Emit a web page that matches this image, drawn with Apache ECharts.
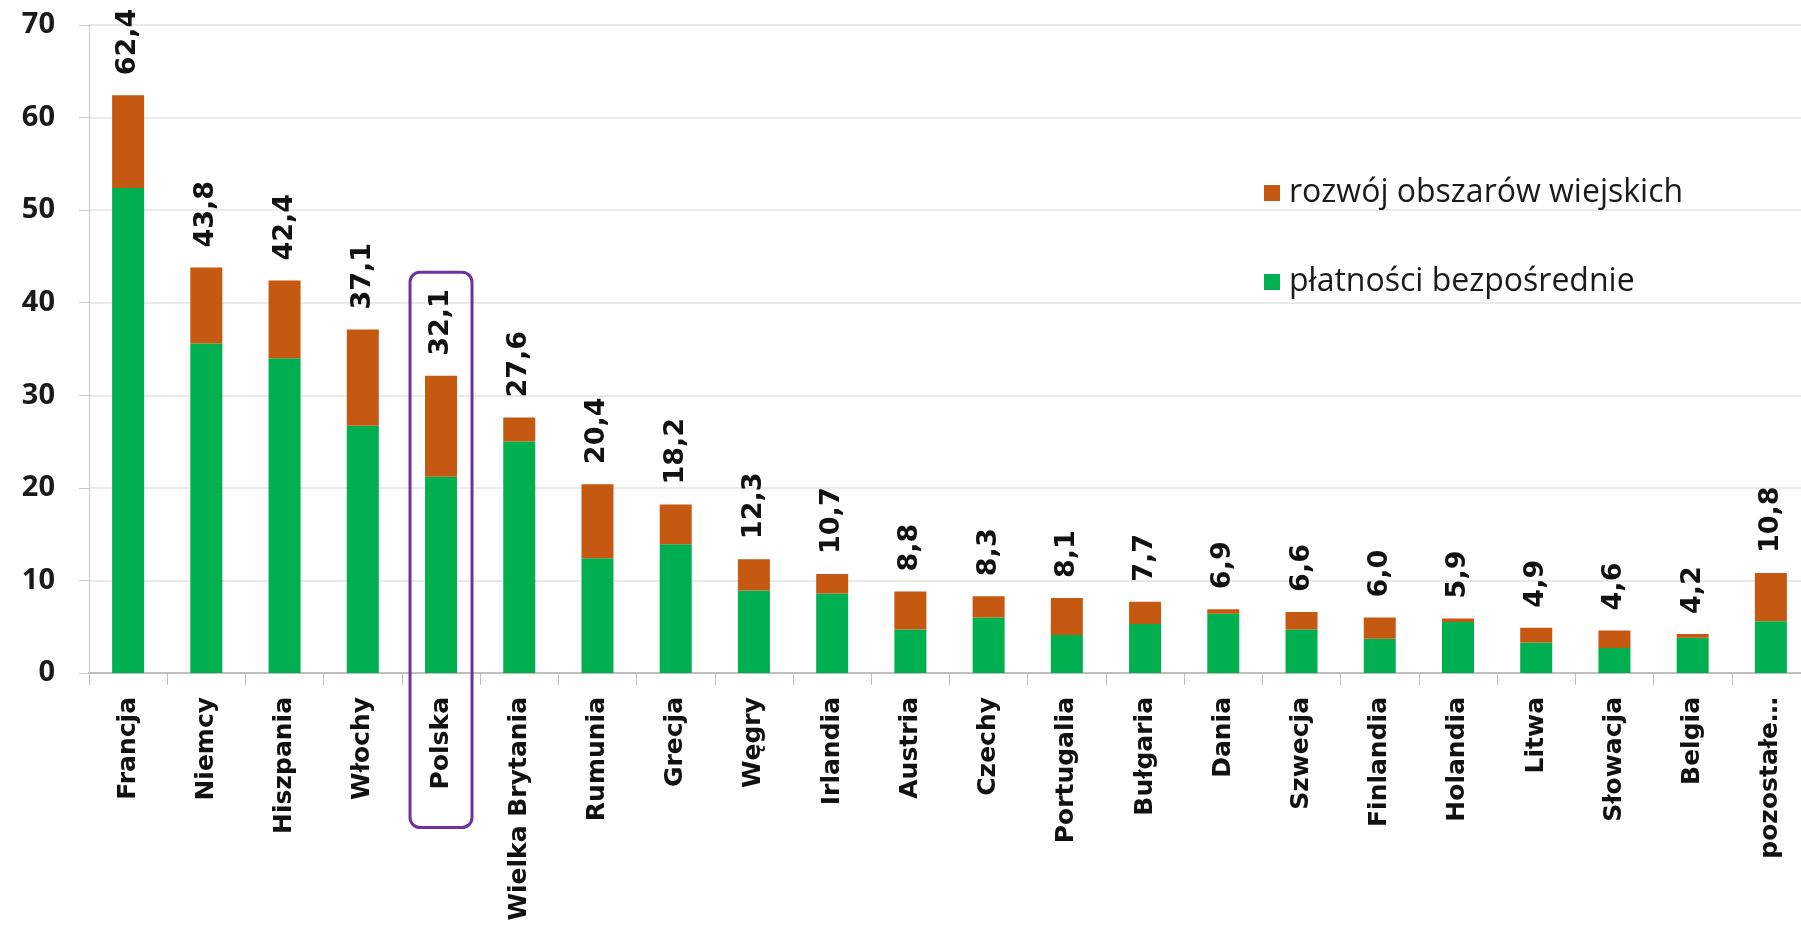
<!DOCTYPE html>
<html>
<head>
<meta charset="utf-8">
<script src="https://cdn.jsdelivr.net/npm/echarts@6/dist/echarts.min.js"></script>
<style>
html,body{margin:0;padding:0;background:#fff;}
#chart{width:1801px;height:940px;}
</style>
</head>
<body>
<div id="chart"></div>
<script>
// Data
const categories = ['Francja','Niemcy','Hiszpania','Włochy','Polska','Wielka Brytania','Rumunia','Grecja','Węgry','Irlandia','Austria','Czechy','Portugalia','Bułgaria','Dania','Szwecja','Finlandia','Holandia','Litwa','Słowacja','Belgia','pozostałe…'];
const platnosci = [52.4,35.6,34.0,26.7,21.2,25.0,12.4,13.9,8.9,8.6,4.7,6.0,4.1,5.3,6.4,4.7,3.7,5.5,3.3,2.7,3.8,5.6];
const rozwoj = [10.0,8.2,8.4,10.4,10.9,2.6,8.0,4.3,3.4,2.1,4.1,2.3,4.0,2.4,0.5,1.9,2.3,0.4,1.6,1.9,0.4,5.2];
const yTicks = [0,10,20,30,40,50,60,70];
const seriesNames = ['płatności bezpośrednie','rozwój obszarów wiejskich'];
const highlightCategory = 'Polska';

const chart = echarts.init(document.getElementById('chart'), null, {renderer:'canvas'});

function fmt(v){ return v.toFixed(1).replace('.', ','); }

const option = {
  backgroundColor:'#ffffff',
  animation:false,
  grid:{left:89, right:-9, top:25, bottom:267, containLabel:false, outerBoundsMode:'none'},
  legend:{
    orient:'vertical',
    left:1259, top:172,
    data:[seriesNames[1], seriesNames[0]],
    icon:'rect', itemWidth:16, itemHeight:16, itemGap:57,
    selectedMode:false,
    textStyle:{fontFamily:'Open Sans', fontSize:32, color:'#1a1a1a', lineHeight:32, padding:[0,0,0,4]}
  },
  xAxis:{
    type:'category',
    data:categories,
    boundaryGap:true,
    axisLine:{show:true, lineStyle:{color:'#bfbfbf', width:2}},
    axisTick:{show:true, length:12, lineStyle:{color:'#bfbfbf', width:1}},
    axisLabel:{interval:0, rotate:90, margin:24, fontFamily:'DejaVu Sans', fontWeight:'bold', fontSize:25, color:'#111111'},
    splitLine:{show:false}
  },
  yAxis:{
    type:'value',
    min:yTicks[0], max:yTicks[yTicks.length-1], interval:10,
    axisLine:{show:true, lineStyle:{color:'#c8c8d0', width:1}},
    axisTick:{show:true, length:10, lineStyle:{color:'#c8c8d0'}},
    axisLabel:{margin:34, fontFamily:'Open Sans', fontWeight:'bold', fontSize:29, color:'#1a1a1a'},
    splitLine:{show:true, lineStyle:{color:'#e3e3e3', width:1.5}}
  },
  series:[
    {
      name:seriesNames[0], type:'bar', stack:'total', data:platnosci,
      barWidth:32, itemStyle:{color:'#00B050'}
    },
    {
      name:seriesNames[1], type:'bar', stack:'total', data:rozwoj,
      barWidth:32, itemStyle:{color:'#C65911'},
      label:{
        show:true, position:'top', rotate:90, distance:20,
        align:'left', verticalAlign:'middle',
        fontFamily:'DejaVu Sans', fontWeight:'bold', fontSize:27, color:'#111111',
        formatter:function(p){ return fmt(platnosci[p.dataIndex] + rozwoj[p.dataIndex]); }
      }
    }
  ]
};
chart.setOption(option);

// Highlight box around "Polska", positioned through the chart's own scales
const topPt = chart.convertToPixel({xAxisIndex:0, yAxisIndex:0}, [highlightCategory, 43.3]);
const botPt = chart.convertToPixel({xAxisIndex:0, yAxisIndex:0}, [highlightCategory, -16.7]);
const boxW = 62;
chart.setOption({
  graphic:[{
    type:'rect',
    shape:{x:topPt[0]-boxW/2, y:topPt[1], width:boxW, height:botPt[1]-topPt[1], r:10},
    style:{fill:'none', stroke:'#7030A0', lineWidth:3},
    z:100
  }]
});
</script>
</body>
</html>
